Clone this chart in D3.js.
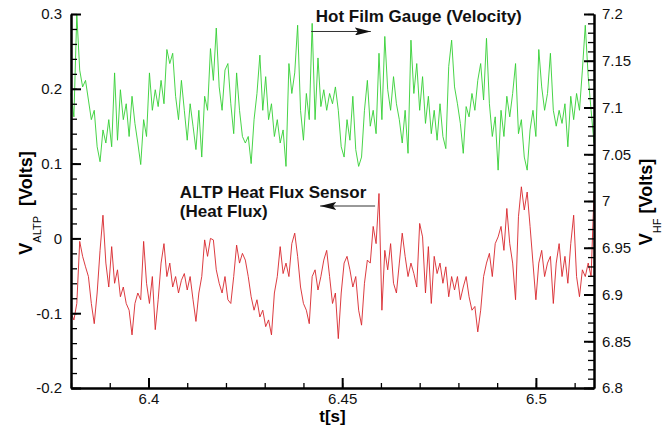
<!DOCTYPE html>
<html>
<head>
<meta charset="utf-8">
<script src="https://cdn.jsdelivr.net/npm/d3@7"></script>
<style>
  body { margin: 0; background: #fff; }
  text { font-family: "Liberation Sans", Arial, sans-serif; }
</style>
</head>
<body>
<svg id="chart"></svg>
<script>
// sampled signals, start time and sample step
const tStart = 6.38;
const tStep = 0.00075;

// ALTP heat flux sensor, left axis [V]
const altp = [
  -0.100, -0.109, -0.087, -0.004, -0.024, -0.038, -0.051, -0.087, -0.114, -0.073,
  -0.016, 0.031, -0.033, -0.065, -0.011, -0.060, -0.042, -0.078, -0.065, -0.087,
  -0.096, -0.129, -0.087, -0.073, -0.082, -0.004, -0.060, -0.087, -0.051, -0.122,
  -0.082, -0.033, -0.007, -0.051, -0.033, -0.065, -0.051, -0.073, -0.056, -0.047,
  -0.069, -0.051, -0.082, -0.111, -0.073, -0.051, -0.002, -0.024, 0.000, -0.002,
  -0.042, -0.060, -0.073, -0.051, -0.082, -0.087, -0.051, -0.009, -0.033, -0.020,
  -0.029, -0.051, -0.078, -0.096, -0.082, -0.105, -0.096, -0.118, -0.109, -0.129,
  -0.073, -0.051, -0.011, -0.047, -0.033, -0.051, -0.007, 0.007, -0.024, -0.065,
  -0.087, -0.096, -0.114, -0.051, -0.042, -0.069, -0.051, -0.029, -0.016, -0.051,
  -0.087, -0.073, -0.134, -0.073, -0.033, -0.024, -0.042, -0.065, -0.051, -0.096,
  -0.116, -0.060, -0.029, -0.033, 0.016, -0.007, 0.060, -0.096, -0.016, -0.042,
  -0.007, -0.060, -0.073, -0.033, 0.007, -0.024, -0.051, -0.033, -0.047, -0.065,
  0.020, 0.002, -0.073, -0.011, -0.087, -0.024, -0.047, -0.033, -0.060, -0.038,
  -0.078, -0.051, -0.069, -0.051, -0.082, -0.065, -0.051, -0.078, -0.096, -0.091,
  -0.125, -0.096, -0.051, -0.033, -0.020, -0.051, -0.007, 0.002, 0.016, -0.016,
  0.040, -0.007, -0.033, -0.082, 0.029, 0.069, 0.038, 0.062, 0.016, -0.033,
  -0.082, -0.033, -0.016, -0.051, -0.033, -0.024, -0.087, -0.033, -0.007, -0.051,
  -0.024, -0.060, -0.007, 0.031, -0.051, -0.078, -0.042, -0.051, -0.033, -0.051,
  0.060
];

// hot film gauge, right axis [V]
const hotFilm = [
  7.115, 7.090, 7.200, 7.140, 7.122, 7.129, 7.108, 7.087, 7.097, 7.058,
  7.042, 7.076, 7.062, 7.087, 7.058, 7.137, 7.065, 7.119, 7.087, 7.104,
  7.069, 7.112, 7.083, 7.062, 7.039, 7.087, 7.069, 7.137, 7.097, 7.119,
  7.101, 7.129, 7.104, 7.162, 7.147, 7.158, 7.112, 7.087, 7.129, 7.097,
  7.065, 7.104, 7.080, 7.055, 7.097, 7.047, 7.112, 7.097, 7.163, 7.129,
  7.185, 7.122, 7.097, 7.140, 7.147, 7.104, 7.072, 7.137, 7.097, 7.069,
  7.062, 7.069, 7.040, 7.087, 7.115, 7.156, 7.097, 7.133, 7.087, 7.104,
  7.069, 7.087, 7.062, 7.076, 7.037, 7.147, 7.115, 7.137, 7.188, 7.097,
  7.065, 7.115, 7.087, 7.190, 7.087, 7.153, 7.101, 7.119, 7.097, 7.115,
  7.104, 7.122, 7.097, 7.058, 7.047, 7.087, 7.065, 7.112, 7.055, 7.037,
  7.047, 7.097, 7.129, 7.080, 7.097, 7.072, 7.158, 7.087, 7.176, 7.119,
  7.097, 7.133, 7.104, 7.087, 7.062, 7.097, 7.051, 7.172, 7.115, 7.147,
  7.097, 7.133, 7.083, 7.112, 7.072, 7.097, 7.065, 7.104, 7.069, 7.056,
  7.144, 7.172, 7.122, 7.104, 7.083, 7.051, 7.101, 7.090, 7.115, 7.097,
  7.129, 7.147, 7.108, 7.174, 7.104, 7.069, 7.090, 7.033, 7.097, 7.069,
  7.112, 7.090, 7.115, 7.147, 7.072, 7.087, 7.047, 7.033, 7.076, 7.097,
  7.069, 7.162, 7.122, 7.097, 7.115, 7.158, 7.097, 7.080, 7.097, 7.083,
  7.104, 7.058, 7.112, 7.087, 7.115, 7.097, 7.140, 7.188, 7.133, 7.097,
  7.062
];

const xTicks = [6.4, 6.45, 6.5];
const leftTicks = [-0.2, -0.1, 0, 0.1, 0.2, 0.3];
const rightTicks = [6.8, 6.85, 6.9, 6.95, 7, 7.05, 7.1, 7.15, 7.2];

const margin = { top: 14, right: 73, bottom: 43, left: 71 };
const width = 667 - margin.left - margin.right;
const height = 431 - margin.top - margin.bottom;

const svg = d3.select("#chart")
  .attr("width", 667)
  .attr("height", 431);

const g = svg.append("g")
  .attr("transform", "translate(" + margin.left + "," + margin.top + ")");

const x = d3.scaleLinear().domain([6.38, 6.515]).range([0, width]);
const yL = d3.scaleLinear().domain([-0.2, 0.3]).range([height, 0]);
const yR = d3.scaleLinear().domain([6.8, 7.2]).range([height, 0]);

const t = (d, i) => x(tStart + i * tStep);

// signals
g.append("path")
  .datum(hotFilm)
  .attr("fill", "none")
  .attr("stroke", "#33cf33")
  .attr("stroke-width", 0.9)
  .attr("d", d3.line().x(t).y((d) => yR(d)));

g.append("path")
  .datum(altp)
  .attr("fill", "none")
  .attr("stroke", "#d8262b")
  .attr("stroke-width", 0.9)
  .attr("d", d3.line().x(t).y((d) => yL(d)));

// axes, ticks pointing into the plot
const fmt = (d) => String(d);
const xMinor = d3.range(0, 14).map((i) => +(6.38 + i * 0.01).toFixed(2));
const lMinor = d3.range(0, 26).map((i) => +(-0.2 + i * 0.02).toFixed(2));
const rMinor = d3.range(0, 41).map((i) => +(6.8 + i * 0.01).toFixed(2));

function styleAxis(sel, major) {
  sel.select(".domain").attr("stroke", "#000").attr("stroke-width", 2);
  sel.selectAll(".tick line").attr("stroke", "#000").attr("stroke-width", major ? 2 : 1.3);
  sel.selectAll(".tick text")
    .attr("fill", "#111")
    .style("font-size", "15px");
}

g.append("g")
  .attr("transform", "translate(0," + height + ")")
  .call(d3.axisBottom(x).tickValues(xMinor).tickSizeInner(-5).tickSizeOuter(0).tickFormat(""))
  .call((s) => styleAxis(s, false));
g.append("g")
  .attr("transform", "translate(0," + height + ")")
  .call(d3.axisBottom(x).tickValues(xTicks).tickSizeInner(-10).tickSizeOuter(0).tickPadding(5).tickFormat(fmt))
  .call((s) => styleAxis(s, true));

g.append("g")
  .call(d3.axisLeft(yL).tickValues(lMinor).tickSizeInner(-6).tickSizeOuter(0).tickFormat(""))
  .call((s) => styleAxis(s, false));
g.append("g")
  .call(d3.axisLeft(yL).tickValues(leftTicks).tickSizeInner(-10).tickSizeOuter(0).tickPadding(9).tickFormat(fmt))
  .call((s) => styleAxis(s, true));

g.append("g")
  .attr("transform", "translate(" + width + ",0)")
  .call(d3.axisRight(yR).tickValues(rMinor).tickSizeInner(-6).tickSizeOuter(0).tickFormat(""))
  .call((s) => styleAxis(s, false));
g.append("g")
  .attr("transform", "translate(" + width + ",0)")
  .call(d3.axisRight(yR).tickValues(rightTicks).tickSizeInner(-10).tickSizeOuter(0).tickPadding(8).tickFormat(fmt))
  .call((s) => styleAxis(s, true));

// axis titles
g.append("text")
  .attr("x", width / 2)
  .attr("y", height + 34)
  .attr("text-anchor", "middle")
  .style("font-size", "17px")
  .style("font-weight", "bold")
  .text("t[s]");

const leftTitle = svg.append("text")
  .attr("transform", "translate(32,203) rotate(-90)")
  .attr("text-anchor", "middle")
  .style("font-size", "18px")
  .style("font-weight", "bold")
  .style("white-space", "pre");
leftTitle.append("tspan").text("V");
leftTitle.append("tspan").attr("dy", 9).style("font-size", "11px").style("font-weight", "normal").text("ALTP");
leftTitle.append("tspan").attr("dy", -9).text("  [Volts]");

const rightTitle = svg.append("text")
  .attr("transform", "translate(652,202) rotate(-90)")
  .attr("text-anchor", "middle")
  .style("font-size", "18px")
  .style("font-weight", "bold")
  .style("white-space", "pre");
rightTitle.append("tspan").text("V");
rightTitle.append("tspan").attr("dy", 9).style("font-size", "11px").style("font-weight", "normal").text("HF");
rightTitle.append("tspan").attr("dy", -9).text(" [Volts]");

// annotations with arrows
const defs = svg.append("defs");
defs.append("marker")
  .attr("id", "head")
  .attr("viewBox", "0 0 16 8")
  .attr("refX", 16)
  .attr("refY", 4)
  .attr("markerWidth", 16)
  .attr("markerHeight", 8)
  .attr("markerUnits", "userSpaceOnUse")
  .attr("orient", "auto")
  .append("path")
  .attr("d", "M0,0L16,4L0,8L3,4Z")
  .attr("fill", "#111");

g.append("line")
  .attr("x1", x(6.442)).attr("x2", x(6.4574))
  .attr("y1", yR(7.1813)).attr("y2", yR(7.1813))
  .attr("stroke", "#333").attr("stroke-width", 1)
  .attr("marker-end", "url(#head)");

g.append("text")
  .attr("x", x(6.4432))
  .attr("y", yR(7.1918))
  .style("font-size", "17px")
  .style("font-weight", "bold")
  .attr("fill", "#111")
  .text("Hot Film Gauge (Velocity)");

g.append("line")
  .attr("x1", x(6.4585)).attr("x2", x(6.4443))
  .attr("y1", yL(0.0433)).attr("y2", yL(0.0433))
  .attr("stroke", "#333").attr("stroke-width", 1)
  .attr("marker-end", "url(#head)");

const altpNote = g.append("text")
  .attr("x", x(6.4081))
  .attr("y", yL(0.0536))
  .style("font-size", "17px")
  .style("font-weight", "bold")
  .attr("fill", "#111");
altpNote.append("tspan").text("ALTP Heat Flux Sensor");
altpNote.append("tspan").attr("x", x(6.4081)).attr("dy", 18.5).text("(Heat Flux)");
</script>
</body>
</html>
